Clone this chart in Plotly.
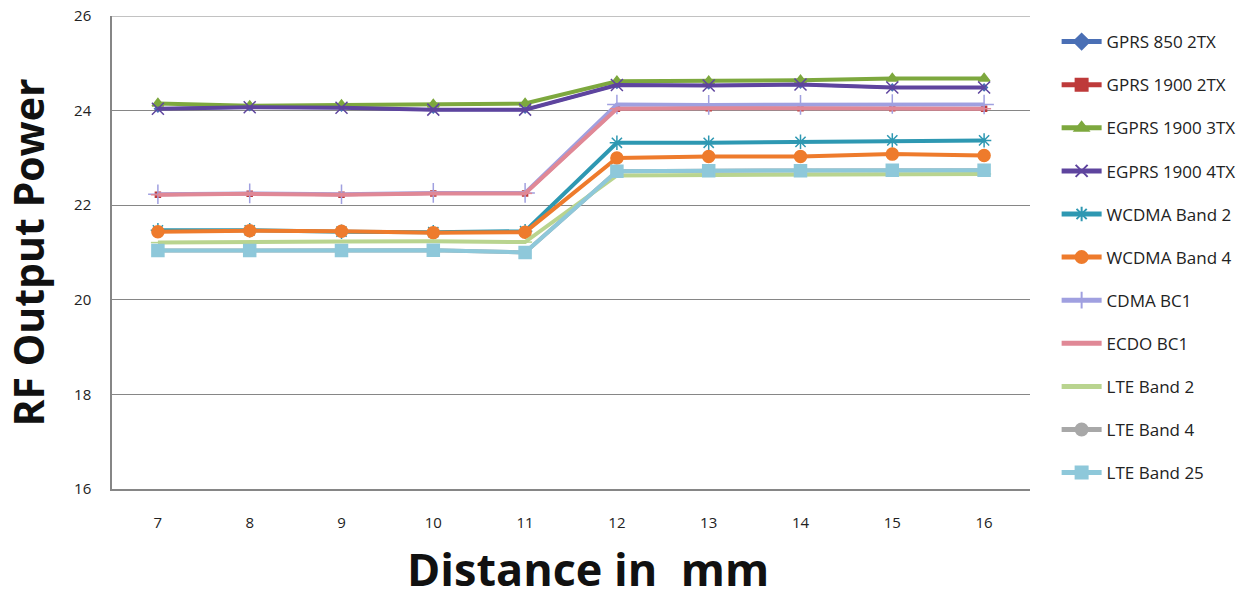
import plotly.graph_objects as go

distance = [7, 8, 9, 10, 11, 12, 13, 14, 15, 16]

series_names = ["GPRS 850 2TX", "GPRS 1900 2TX", "EGPRS 1900 3TX", "EGPRS 1900 4TX",
                "WCDMA Band 2", "WCDMA Band 4", "CDMA BC1", "ECDO BC1",
                "LTE Band 2", "LTE Band 4", "LTE Band 25"]

gprs850_2tx = [24.04, 24.07, 24.06, 24.02, 24.02, 24.54, 24.53, 24.55, 24.49, 24.49]
gprs1900_2tx = [22.22, 22.24, 22.22, 22.25, 22.25, 24.04, 24.05, 24.05, 24.05, 24.04]
egprs1900_3tx = [24.15, 24.10, 24.12, 24.13, 24.15, 24.62, 24.62, 24.64, 24.68, 24.68]
egprs1900_4tx = [24.04, 24.07, 24.06, 24.02, 24.02, 24.54, 24.53, 24.55, 24.49, 24.49]
wcdma_b2 = [21.47, 21.47, 21.44, 21.43, 21.45, 23.32, 23.32, 23.34, 23.37, 23.37]
wcdma_b4 = [21.44, 21.46, 21.45, 21.42, 21.43, 23.00, 23.03, 23.03, 23.08, 23.05]
cdma_bc1 = [22.23, 22.25, 22.23, 22.26, 22.26, 24.13, 24.12, 24.12, 24.14, 24.13]
ecdo_bc1 = [22.22, 22.24, 22.22, 22.25, 22.25, 24.04, 24.05, 24.05, 24.05, 24.04]
lte_b2 = [21.21, 21.21, 21.23, 21.24, 21.22, 22.63, 22.64, 22.65, 22.65, 22.66]
lte_b4 = [21.04, 21.04, 21.04, 21.05, 21.00, 22.72, 22.73, 22.73, 22.74, 22.74]
lte_b25 = [21.04, 21.04, 21.04, 21.05, 21.00, 22.72, 22.73, 22.73, 22.74, 22.74]

y_ticks = [16, 18, 20, 22, 24, 26]

values = [gprs850_2tx, gprs1900_2tx, egprs1900_3tx, egprs1900_4tx, wcdma_b2, wcdma_b4,
          cdma_bc1, ecdo_bc1, lte_b2, lte_b4, lte_b25]
colors = ["#4A6FB5", "#BE3A3A", "#7DA83E", "#5E449E", "#2E98B2", "#EE7B2C",
          "#A0A0E0", "#E08896", "#B9D48F", "#A8A8A8", "#8EC8DA"]
symbols = ["diamond", "square", "triangle-up", "x-thin-open", "asterisk-open", "circle",
           "cross-thin-open", "line-ew-open", "line-ew-open", "circle", "square"]
sizes = [5, 5, 10, 12, 12, 12, 14, 10, 10, 8, 12]
# series hidden beneath others are drawn first; legend order kept via legendrank
draw_order = [0, 1, 9, 2, 3, 4, 5, 6, 7, 8, 10]

fig = go.Figure()
for i in draw_order:
    name, vals = series_names[i], values[i]
    fig.add_trace(go.Scatter(
        x=distance, y=vals, name=name, mode="lines+markers",
        line=dict(color=colors[i], width=4 if i not in (0, 1) else 3),
        marker=dict(symbol=symbols[i], size=sizes[i], color=colors[i],
                    line=dict(color=colors[i], width=1.5)),
        legendgroup=f"g{i}", legendrank=100 + i,
    ))

fig.update_layout(
    width=1251, height=599,
    margin=dict(l=112, r=221, t=16, b=110, autoexpand=False),
    paper_bgcolor="white", plot_bgcolor="white",
    font=dict(family="Open Sans", color="#222"),
    showlegend=True,
    legend=dict(x=1.029, xanchor="left", y=0.983, yanchor="top",
                font=dict(size=17, color="#222", family="Open Sans"),
                tracegroupgap=18, itemwidth=40, itemsizing="constant",
                maxheight=590, bgcolor="rgba(0,0,0,0)"),
    xaxis=dict(
        range=[6.5, 16.5], tickmode="array", tickvals=distance,
        ticktext=[str(d) for d in distance], automargin=False,
        showgrid=False, zeroline=False,
        showline=True, linecolor="#868686", linewidth=1.5,
        ticks="", tickfont=dict(size=15, color="#222"), ticklabelstandoff=19,
    ),
    yaxis=dict(
        range=[16, 26], tickmode="array", tickvals=y_ticks, automargin=False,
        showgrid=True, gridcolor="#868686", gridwidth=1,
        zeroline=False, showline=True, linecolor="#868686", linewidth=1.5,
        ticks="", tickfont=dict(size=15, color="#222"), ticklabelstandoff=16,
        ticklabeloverflow="allow",
        title=dict(text="RF Output Power", font=dict(size=41, family="Open Sans", weight="bold", color="#111"),
                   standoff=28),
    ),
    shapes=[dict(type="line", xref="paper", x0=0, x1=1, yref="y", y0=y_ticks[-1], y1=y_ticks[-1],
                 line=dict(color="#868686", width=1), layer="below")],
    annotations=[dict(
        text="Distance in\u00a0 mm", xref="paper", yref="paper",
        x=0.5185, y=-0.168, xanchor="center", yanchor="middle", showarrow=False,
        font=dict(size=45, family="Open Sans", weight="bold", color="#111"),
    )],
)

fig.write_html("out.html", config={"displayModeBar": False},
               post_script="document.body.style.margin='0px';")
